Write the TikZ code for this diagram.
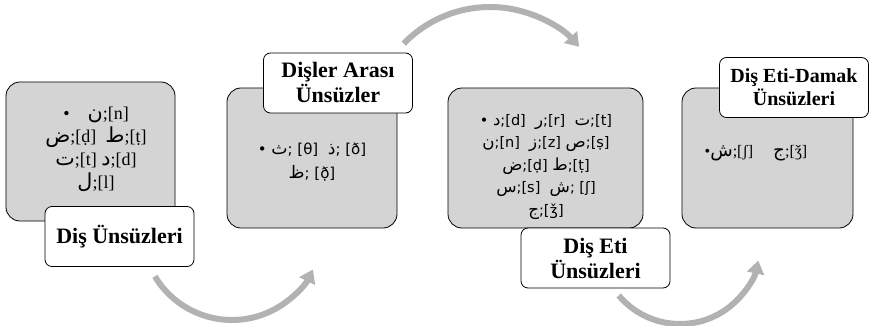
\documentclass[tikz,border=0pt]{standalone}
\usepackage{fontspec}
\setmainfont{Liberation Serif}
\newfontfamily\arabicfont[Script=Arabic, Scale=1.15]{DejaVu Sans}
\newfontfamily\ipasans{DejaVu Sans}
\usetikzlibrary{arrows.meta}
\definecolor{boxgray}{RGB}{212, 212, 212}
\definecolor{arrowgray}{RGB}{178, 178, 178}
\newcommand{\arab}[1]{{\arabicfont #1}}

\begin{document}
\begin{tikzpicture}[x=1pt, y=-1pt,
  soundbox/.style={draw, line width=0.8pt, rounded corners=14pt, fill=boxgray, inner sep=0pt},
  titlebox/.style={draw, line width=0.8pt, rounded corners=7pt, fill=white, minimum width=149pt, minimum height=60pt, inner sep=0pt, align=center, font=\bfseries\fontsize{22}{25}\selectfont},
  flow/.style={draw=arrowgray, line width=6pt, -{Triangle[width=17pt, length=13pt]}}]
  \useasboundingbox (0,0) rectangle (869,326);

  % Gray boxes
  \node[soundbox, minimum width=169pt, minimum height=139pt] (dis) at (90.5, 151.5) {};
  \node[soundbox, minimum width=170pt, minimum height=140pt] (arasi) at (312, 158) {};
  \node[soundbox, minimum width=195pt, minimum height=140pt] (eti) at (545.5, 158) {};
  \node[soundbox, minimum width=171pt, minimum height=140pt] (damak) at (767.5, 158) {};

  % Sounds
  \node[align=center, font=\fontsize{18}{23}\selectfont] (distext) at (96, 149) {\textbullet\quad\arab{ن};[n]\\ \arab{ض};[ḍ]\ \ \arab{ط};[ṭ]\\ \arab{ت};[t] \arab{د};[d]\\ \arab{ل};[l]};
  \node[align=center, font=\ipasans\fontsize{15}{24}\selectfont] (arasitext) at (312, 162) {\textbullet\ \arab{ث}; [θ]\ \ \arab{ذ}; [ð]\\ \arab{ظ}; [ð̣]};
  \node[align=center, font=\ipasans\fontsize{14.5}{22.5}\selectfont] (etitext) at (546, 167) {\textbullet\ \arab{د};[d]\ \ \arab{ر};[r]\ \ \arab{ت};[t]\\ \arab{ن};[n]\ \ \arab{ز};[z] \arab{ص};[ṣ]\\ \arab{ض};[ḍ] \arab{ط};[ṭ]\\ \arab{س};[s]\ \ \arab{ش}; [ʃ]\\ \arab{ج};[ǯ]};
  \node[align=center, font=\fontsize{16}{20}\selectfont] (damaktext) at (756, 153) {\textbullet\arab{ش};[ʃ]\quad\ \arab{ج};[ǯ]};

  % Titles
  \node[titlebox] (dislabel) at (119.5, 236.5) {Diş Ünsüzleri};
  \node[titlebox] (arasilabel) at (338, 83) {Dişler Arası\\Ünsüzler};
  \node[titlebox] (etilabel) at (595.5, 258) {Diş Eti\\Ünsüzleri};
  \node[titlebox, font=\bfseries\fontsize{20}{23}\selectfont] (damaklabel) at (794, 87.5) {Diş Eti-Damak\\Ünsüzleri};

  % Curved arrows
  \coordinate (arc1) at (232, 230);
  \coordinate (arc2) at (490, 127);
  \coordinate (arc3) at (680, 244);
  \draw[flow] ([shift={(149:90)}]arc1) arc[start angle=149, end angle=26, radius=90];
  \draw[flow] ([shift={(224:120)}]arc2) arc[start angle=224, end angle=318, radius=120];
  \draw[flow] ([shift={(140:80)}]arc3) arc[start angle=140, end angle=12, radius=80];
\end{tikzpicture}
\end{document}
